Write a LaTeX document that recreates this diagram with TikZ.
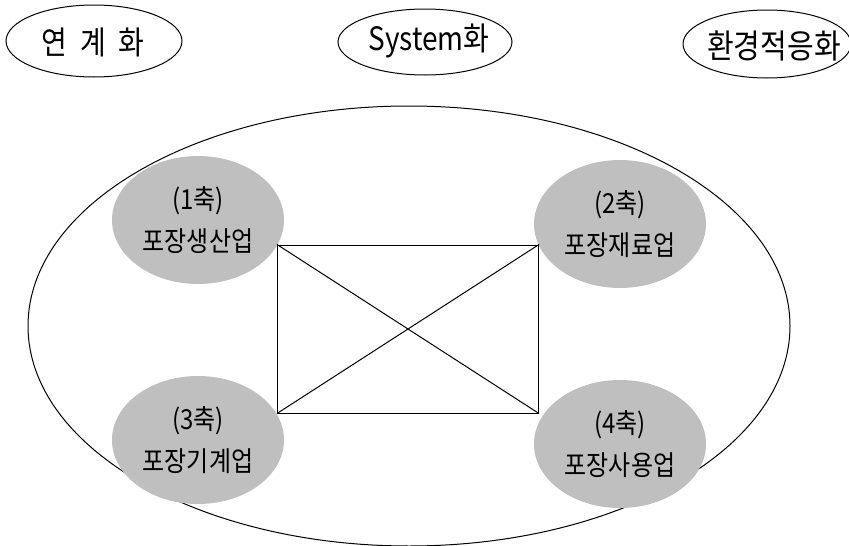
\documentclass[tikz,border=0pt]{standalone}
\usepackage{fontspec}
\setmainfont{Noto Sans CJK KR}
\usetikzlibrary{shapes.geometric}
\newcommand\tallbox[1]{\scalebox{1}[1.15]{#1}}
\begin{document}
\begin{tikzpicture}[x=1pt,y=-1pt,
  topoval/.style={ellipse, draw=black, line width=1pt, inner sep=0pt},
  axisoval/.style={ellipse, fill=gray!50, inner sep=0pt, align=center,
    minimum width=172pt, minimum height=128pt,
    font=\fontsize{24}{42}\selectfont},
  toplabel/.style={font=\fontsize{28}{32}\selectfont},
  thinline/.style={draw=black, line width=1pt}
 ]
\useasboundingbox (0,0) rectangle (849,546);

% top ellipses
\node (link) [topoval, minimum width=176pt, minimum height=72pt] at (94,41) {};
\node (linkt) [toplabel] at (93,42) {\tallbox{연\hspace{13pt}계\hspace{13pt}화}};
\node (sys) [topoval, minimum width=174pt, minimum height=66pt] at (425,42) {};
\node (syst) [toplabel] at (429,41) {\tallbox{System화}};
\node (env) [topoval, minimum width=168pt, minimum height=68pt] at (767,44) {};
\node (envt) [toplabel, font=\fontsize{29}{32}\selectfont] at (774,46) {\tallbox{환경적응화}};

% big ellipse
\node (outer) [topoval, minimum width=762pt, minimum height=440pt] at (409,326) {};

% axis ellipses
\node (ax1) [axisoval] at (198,220) {\tallbox{(1축)}\\\tallbox{포장생산업}};
\node (ax2) [axisoval] at (620,224) {\tallbox{(2축)}\\\tallbox{포장재료업}};
\node (ax3) [axisoval] at (198,440) {\tallbox{(3축)}\\\tallbox{포장기계업}};
\node (ax4) [axisoval] at (620,444) {\tallbox{(4축)}\\\tallbox{포장사용업}};

% central box
\node (box) [thinline, minimum width=261pt, minimum height=168pt, inner sep=0pt] at (408,329) {};
\draw[thinline] (box.north west) -- (box.south east);
\draw[thinline] (box.north east) -- (box.south west);
\end{tikzpicture}
\end{document}
